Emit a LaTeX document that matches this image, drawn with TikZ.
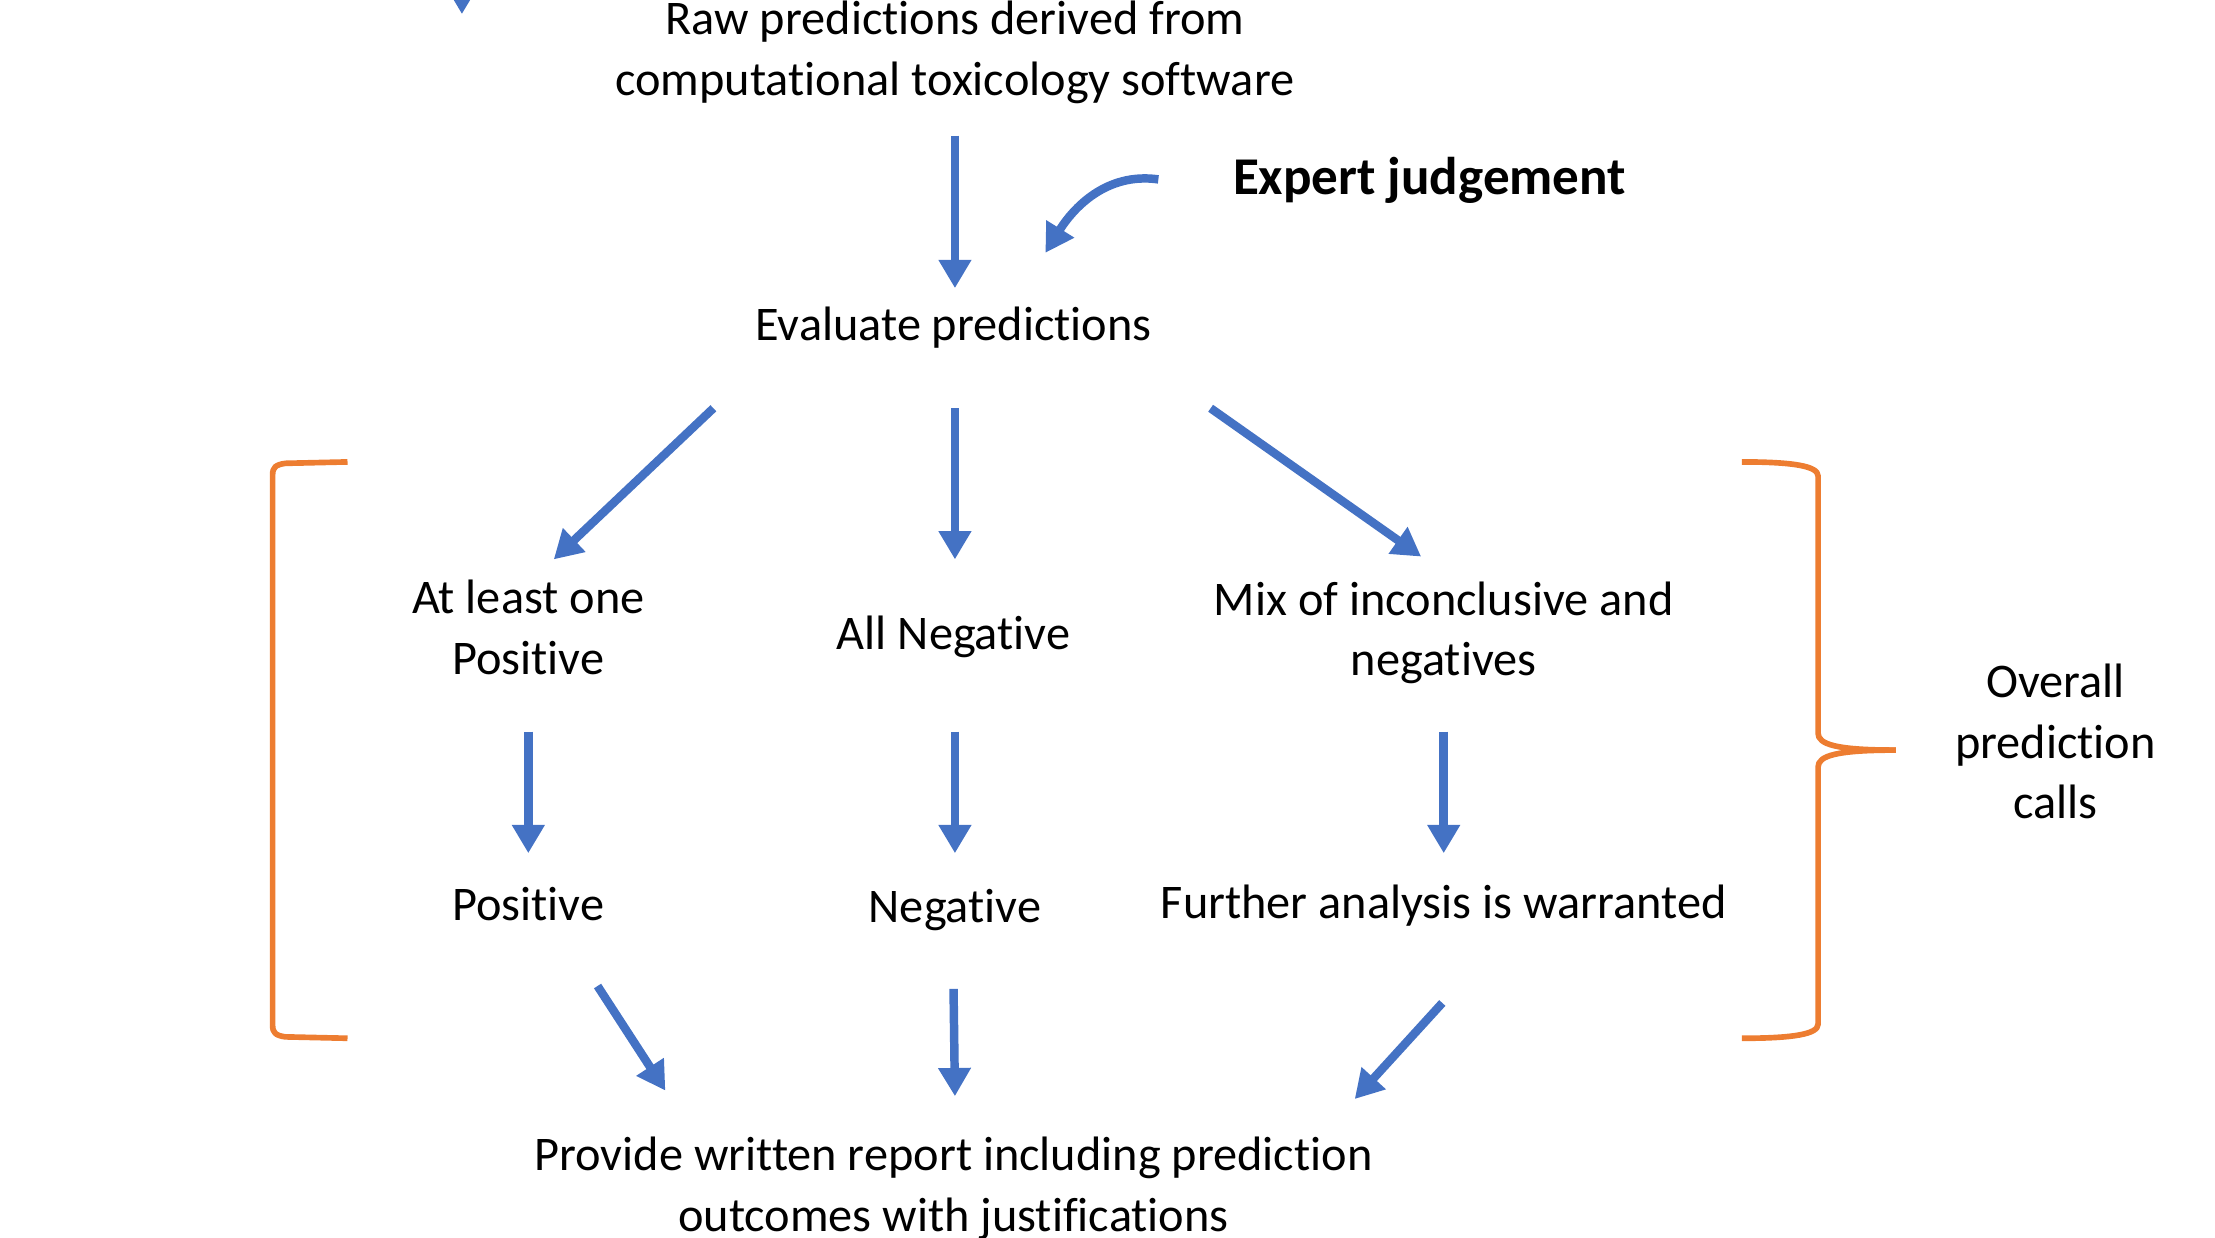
\documentclass[tikz,border=0pt]{standalone}
\usepackage{fontspec}
\setmainfont{Carlito}[Ligatures=NoCommon]
\usetikzlibrary{arrows.meta}
\definecolor{flowblue}{HTML}{4472C4}
\definecolor{braceorange}{HTML}{ED7D31}
\begin{document}
\begin{tikzpicture}[x=0.5pt,y=-0.5pt,
  lbl/.style={align=center, font=\fontsize{17.1}{21.5}\selectfont, inner sep=0pt},
  flow/.style={draw=flowblue, line width=3pt, -{Triangle[width=11pt,length=10pt]}, flowblue},
  bracket/.style={draw=braceorange, line width=2pt, line join=round}]
\useasboundingbox (0,0) rectangle (1568,876);

% text blocks
\node[lbl] (raw) at (676,37) {Raw predictions derived from\\computational toxicology software};
\node[lbl, font=\fontsize{18.8}{22}\selectfont\bfseries] (expert) at (1012,128) {Expert judgement};
\node[lbl] (eval) at (675,232) {Evaluate predictions};
\node[lbl] (atleast) at (374,444) {At least one\\Positive};
\node[lbl] (allneg) at (675,451) {All Negative};
\node[lbl] (mix) at (1022,448) {Mix of inconclusive and\\negatives};
\node[lbl] (pos) at (374,640) {Positive};
\node[lbl] (neg) at (676,644) {Negative};
\node[lbl] (further) at (1022,641) {Further analysis is warranted};
\node[lbl] (report) at (675,841) {Provide written report including prediction\\outcomes with justifications};
\node[lbl] (overall) at (1455,525) {Overall\\prediction\\calls};

% arrow end points
\coordinate (topin) at (327,-30);
\coordinate (topout) at (327,10);
\coordinate (rawout) at (676,96);
\coordinate (evalin) at (676,204);
\coordinate (exout) at (820,127);
\coordinate (exin) at (740,179);
\coordinate (evL) at (505,289);
\coordinate (evM) at (676,289);
\coordinate (evR) at (857,289);
\coordinate (alIn) at (392,396);
\coordinate (anIn) at (676,396);
\coordinate (mxIn) at (1006,394);
\coordinate (alOut) at (374,518);
\coordinate (anOut) at (676,518);
\coordinate (mxOut) at (1022,518);
\coordinate (posIn) at (374,604);
\coordinate (negIn) at (676,604);
\coordinate (frIn) at (1022,604);
\coordinate (posOut) at (423,698);
\coordinate (negOut) at (675,700);
\coordinate (frOut) at (1021,710);
\coordinate (repL) at (471,772);
\coordinate (repM) at (676,776);
\coordinate (repR) at (959,778);

% connectors
\draw[flow] (topin) -- (topout);
\draw[flow] (rawout) -- (evalin);
\draw[flow] (exout) to[out=172, in=58] (exin);
\draw[flow] (evL) -- (alIn);
\draw[flow] (evM) -- (anIn);
\draw[flow] (evR) -- (mxIn);
\draw[flow] (alOut) -- (posIn);
\draw[flow] (anOut) -- (negIn);
\draw[flow] (mxOut) -- (frIn);
\draw[flow] (posOut) -- (repL);
\draw[flow] (negOut) -- (repM);
\draw[flow] (frOut) -- (repR);

% left bracket
\draw[bracket] (246,327) -- (202,328) .. controls (195,329) and (193,331) .. (193,336)
  -- (193,726) .. controls (193,731) and (195,733) .. (202,734) -- (246,735);

% right brace
\draw[bracket] (1233,327) .. controls (1270,327) and (1287,330) .. (1287,337)
  -- (1287,519) .. controls (1287,527) and (1300,531) .. (1342,531);
\draw[bracket] (1342,531) .. controls (1300,531) and (1287,535) .. (1287,543)
  -- (1287,725) .. controls (1287,732) and (1270,735) .. (1233,735);
\end{tikzpicture}
\end{document}
